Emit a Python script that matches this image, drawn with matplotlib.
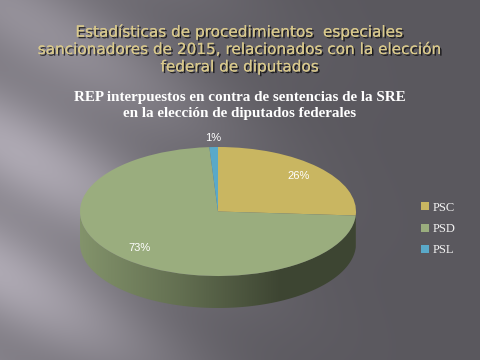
import numpy as np
import matplotlib
matplotlib.use("Agg")
import matplotlib.pyplot as plt
import matplotlib.patheffects as pe
from matplotlib.patches import Polygon

# data
labels = ["PSC", "PSD", "PSL"]
shares = [26, 73, 1]
colors = ["#c9b661", "#9aad7e", "#5aa9c9"]

slide_title = ("Estadísticas de procedimientos  especiales\n"
               "sancionadores de 2015, relacionados con la elección\n"
               "federal de diputados")
chart_title = ("REP interpuestos en contra de sentencias de la SRE\n"
               "en la elección de diputados federales")

W, H = 480, 360
fig = plt.figure(figsize=(4.8, 3.6), dpi=100)

# --- slide background: dark gray with a light glow/streaks on the left ---
bg = fig.add_axes([0, 0, 1, 1])
yy, xx = np.mgrid[0:H, 0:W].astype(float)
base = np.array([0.353, 0.345, 0.369])
light = np.array([0.70, 0.68, 0.72])
glow = np.exp(-(xx / 190.0) ** 2) * (0.55 + 0.45 * np.exp(-((yy - 210) / 170.0) ** 2))
streak = 0.8 + 0.2 * np.cos((yy - 0.55 * xx) / 22.0)
w = np.clip(glow * streak, 0, 1)[..., None]
img = base * (1 - w) + light * w
bg.imshow(img, extent=[0, W, H, 0], aspect="auto")
bg.set_xlim(0, W)
bg.set_ylim(H, 0)
bg.axis("off")

shadow = [pe.withSimplePatchShadow(offset=(1.2, -1.2), shadow_rgbFace="black", alpha=0.7), pe.Normal()]
bg.text(240, 49, slide_title, ha="center", va="center", color="#d9c98c",
        fontsize=11, family="DejaVu Sans", linespacing=1.2, path_effects=shadow)
bg.text(240, 106, chart_title, ha="center", va="center", color="white",
        fontsize=10.9, family="Liberation Serif", fontweight="bold", linespacing=1.3)

# --- 3D-looking pie ---
cx, cy, rx, ry, depth = 218, 211.5, 138, 64.5, 32
d = depth / ry
ax = fig.add_axes([(cx - rx) / W, (H - (cy + ry + depth)) / H, 2 * rx / W, (2 * ry + depth) / H])
ax.patch.set_alpha(0)

wedges, _ = ax.pie(shares, colors=colors, startangle=90, counterclock=False,
                   wedgeprops=dict(linewidth=0), radius=1)
for wd in wedges:
    wd.set_zorder(3)

# side walls of the visible (front) part of each slice
gx = np.linspace(-1, 1, 300)
shade = np.interp(gx, [-1, -0.3, 0.45, 1], [0.85, 0.65, 0.40, 0.40])
for wd, c in zip(wedges, colors):
    t1, t2 = wd.theta1 % 360, wd.theta2 % 360
    if t2 <= t1:
        t2 += 360
    segs = []
    for lo, hi in [(180, 360), (540, 720)]:
        a, b = max(t1, lo), min(t2, hi)
        if b > a:
            segs.append((a, b))
    for a, b in segs:
        t = np.radians(np.linspace(a, b, 120))
        top = np.column_stack([np.cos(t), np.sin(t)])
        bot = np.column_stack([np.cos(t[::-1]), np.sin(t[::-1]) - d])
        poly = Polygon(np.vstack([top, bot]), closed=True, facecolor="none", edgecolor="none")
        ax.add_patch(poly)
        rgb = np.array(matplotlib.colors.to_rgb(c))
        grad = (shade[:, None] * rgb)[None, :, :]
        im = ax.imshow(grad, extent=[-1, 1, -1 - d, 0], aspect="auto", zorder=2)
        im.set_clip_path(poly)

for wd, s in zip(wedges, shares):
    mid = np.radians((wd.theta1 + wd.theta2) / 2)
    r = 1.14 if s < 5 else 0.8
    ax.text(r * np.cos(mid), r * np.sin(mid), f"{s}%", ha="center", va="center",
            color="white", fontsize=8, family="Liberation Sans", zorder=5)

ax.set_aspect("auto")
ax.set_xlim(-1, 1)
ax.set_ylim(-1 - d, 1)
ax.axis("off")

fig.legend(wedges, labels, loc="center left", bbox_to_anchor=(410 / W, 1 - 229 / H),
           frameon=False, prop=dict(family="Liberation Serif", size=9), labelcolor="#f2f2f2",
           handlelength=0.6, handleheight=0.6, labelspacing=0.75, handletextpad=0.3)

fig.savefig("out.png", dpi=100)
